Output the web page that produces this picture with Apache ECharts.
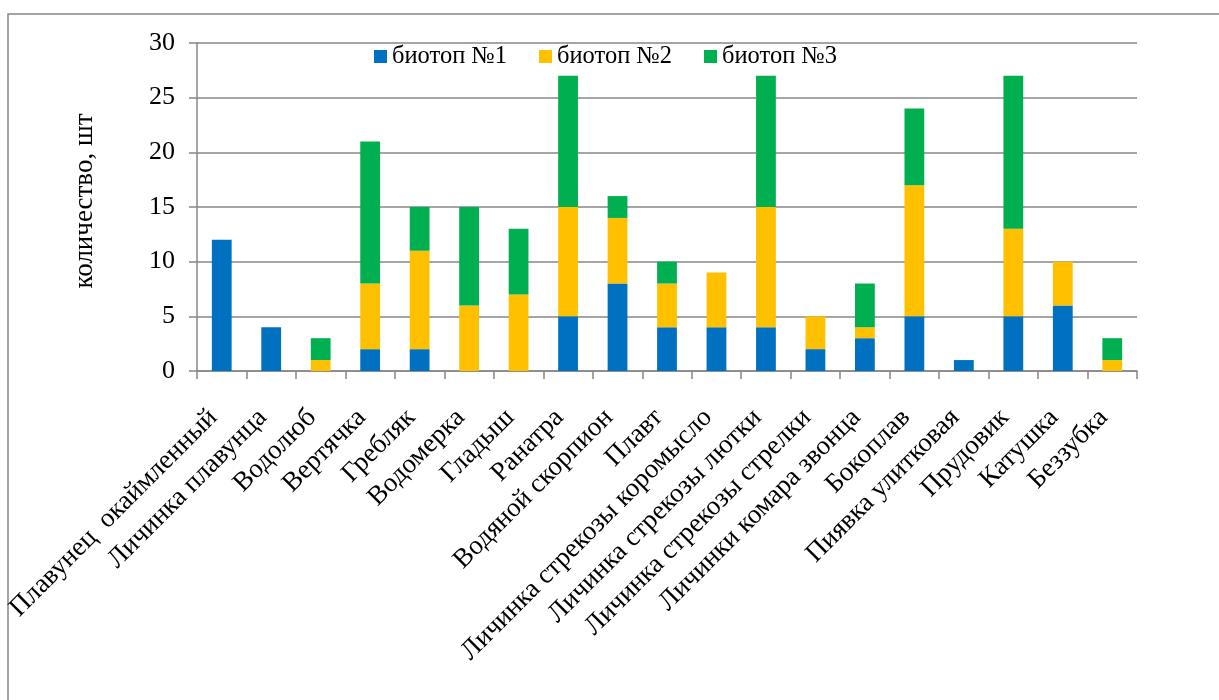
<!DOCTYPE html>
<html>
<head>
<meta charset="utf-8">
<script src="https://cdn.jsdelivr.net/npm/echarts@6/dist/echarts.min.js"></script>
<style>
  html, body { margin: 0; padding: 0; background: #fff; }
  #chart { width: 1219px; height: 700px; }
</style>
</head>
<body>
<div id="chart"></div>
<script>
// Виды водных беспозвоночных
const categories = [
  'Плавунец  окаймленный', 'Личинка плавунца', 'Водолюб', 'Вертячка', 'Гребляк',
  'Водомерка', 'Гладыш', 'Ранатра', 'Водяной скорпион', 'Плавт',
  'Личинка стрекозы коромысло', 'Личинка стрекозы лютки', 'Личинка стрекозы стрелки',
  'Личинки комара звонца', 'Бокоплав', 'Пиявка улитковая', 'Прудовик', 'Катушка', 'Беззубка'
];
const seriesNames = ['биотоп №1', 'биотоп №2', 'биотоп №3'];
const biotope1 = [12, 4, 0, 2, 2, 0, 0, 5, 8, 4, 4, 4, 2, 3, 5, 1, 5, 6, 0];
const biotope2 = [0, 0, 1, 6, 9, 6, 7, 10, 6, 4, 5, 11, 3, 1, 12, 0, 8, 4, 1];
const biotope3 = [0, 0, 2, 13, 4, 9, 6, 12, 2, 2, 0, 12, 0, 4, 7, 0, 14, 0, 2];
const colors = ['#0070C0', '#FFC000', '#00B050'];

const font = '"Liberation Serif", "Times New Roman", serif';
const gridColor = '#878787';

const chart = echarts.init(document.getElementById('chart'), null, { renderer: 'canvas' });

const seriesData = [biotope1, biotope2, biotope3];

chart.setOption({
  animation: false,
  backgroundColor: '#fff',
  graphic: [{
    type: 'rect',
    shape: { x: 8, y: 14, width: 1230, height: 700 },
    style: { fill: 'none', stroke: gridColor, lineWidth: 1.5 },
    silent: true
  }],
  legend: {
    left: 369,
    top: 39,
    itemWidth: 13,
    itemHeight: 13,
    itemGap: 32,
    icon: 'rect',
    textStyle: { fontFamily: font, fontSize: 24.5, color: '#000' },
    data: seriesNames
  },
  grid: {
    left: 197, right: 82, top: 43, bottom: 329,
    containLabel: false,
    outerBoundsMode: 'none'
  },
  xAxis: {
    type: 'category',
    data: categories,
    axisLine: { lineStyle: { color: gridColor, width: 1.5 } },
    axisTick: { show: true, length: 8, alignWithLabel: false, lineStyle: { color: gridColor, width: 1.5 } },
    axisLabel: {
      interval: 0,
      rotate: 45,
      margin: 34,
      padding: [0, 12, 0, 0],
      fontFamily: font,
      fontSize: 27,
      color: '#000'
    }
  },
  yAxis: {
    type: 'value',
    min: 0,
    max: 30,
    interval: 5,
    name: 'количество, шт',
    nameLocation: 'middle',
    nameGap: 99,
    nameTextStyle: { fontFamily: font, fontSize: 27, color: '#000', padding: [0, 0, 0, 12] },
    axisLine: { show: true, lineStyle: { color: gridColor, width: 1.5 } },
    axisTick: { show: true, length: 8, lineStyle: { color: gridColor, width: 1.5 } },
    axisLabel: { fontFamily: font, fontSize: 26, color: '#000', margin: 22 },
    splitLine: { show: true, lineStyle: { color: gridColor, width: 1.5 } }
  },
  series: seriesNames.map((name, i) => ({
    name: name,
    type: 'bar',
    stack: 'total',
    barWidth: '40%',
    itemStyle: { color: colors[i] },
    data: seriesData[i]
  }))
});
</script>
</body>
</html>
